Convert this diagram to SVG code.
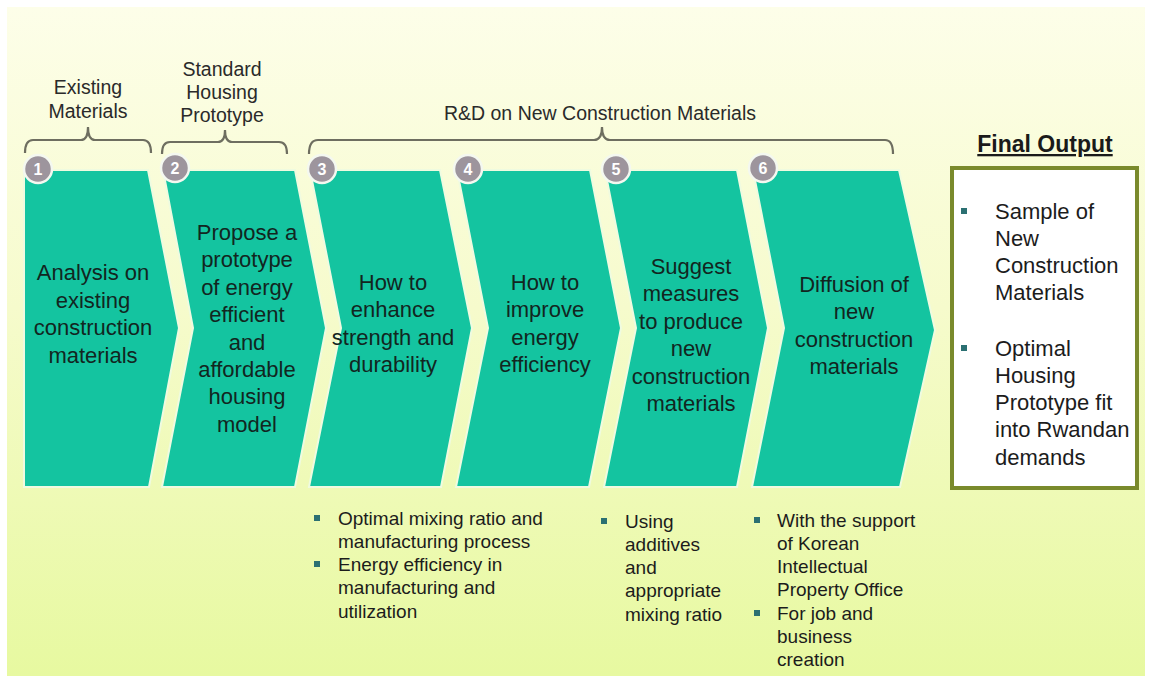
<svg xmlns="http://www.w3.org/2000/svg" width="1151" height="681" viewBox="0 0 1151 681">
<defs>
<linearGradient id="bg" x1="0" y1="0" x2="0" y2="1">
<stop offset="0" stop-color="#fdfee9"/>
<stop offset="0.45" stop-color="#f6fbcc"/>
<stop offset="1" stop-color="#e7f9a0"/>
</linearGradient>
<style>
.chev{fill:#14c4a0;stroke:#effbe0;stroke-width:2;}
.ct{font-family:"Liberation Sans",Arial,sans-serif;font-size:22px;fill:#12261f;text-anchor:middle;}
.lb{font-family:"Liberation Sans",Arial,sans-serif;font-size:19.5px;fill:#2a2a2a;text-anchor:middle;}
.bt{font-family:"Liberation Sans",Arial,sans-serif;font-size:19px;fill:#1c1c1c;}
.bx{font-family:"Liberation Sans",Arial,sans-serif;font-size:22px;fill:#1c1c1c;}
.num{fill:#9d959d;stroke:#f4f8f0;stroke-width:2.5;}
.nt{font-family:"Liberation Sans",Arial,sans-serif;font-size:16px;font-weight:bold;fill:#ffffff;text-anchor:middle;}
.br{fill:none;stroke:#6e6e60;stroke-width:2.2;}
.bul{fill:#2b7072;}
</style>
</defs>
<rect x="0" y="0" width="1151" height="681" fill="#ffffff"/>
<rect x="7" y="7" width="1138" height="669" fill="url(#bg)"/>

<g id="brackets">
<path class="br" d="M25,153 Q25,140 33,140 L81,140 Q88,140 88,127 Q88,140 95,140 L143,140 Q151,140 151,153"/>
<path class="br" d="M162,154 Q162,142 170,142 L218,142 Q225,142 225,130 Q225,142 232,142 L279,142 Q287,142 287,154"/>
<path class="br" d="M309,154 Q309,140 318,140 L594,140 Q602,140 602,127 Q602,140 610,140 L885,140 Q893,140 893,154"/>
</g>

<g id="labels">
<text class="lb"><tspan x="88" y="94">Existing</tspan><tspan x="88" y="118">Materials</tspan></text>
<text class="lb"><tspan x="222" y="76">Standard</tspan><tspan x="222" y="99">Housing</tspan><tspan x="222" y="122">Prototype</tspan></text>
<text class="lb" x="600" y="120">R&amp;D on New Construction Materials</text>
</g>

<g id="node1">
<path class="chev" d="M24,170 L148,170 L179,328 L149,487 L24,487 Z"/>
<text class="ct"><tspan x="93" y="280">Analysis on</tspan><tspan x="93" y="307.5">existing</tspan><tspan x="93" y="335">construction</tspan><tspan x="93" y="362.5">materials</tspan></text>
</g>
<g id="node2">
<path class="chev" d="M163,170 L295,170 L326,328 L295,487 L162,487 L193,328 Z"/>
<text class="ct"><tspan x="247" y="240">Propose a</tspan><tspan x="247" y="267.4">prototype</tspan><tspan x="247" y="294.8">of energy</tspan><tspan x="247" y="322.2">efficient</tspan><tspan x="247" y="349.6">and</tspan><tspan x="247" y="377">affordable</tspan><tspan x="247" y="404.4">housing</tspan><tspan x="247" y="431.8">model</tspan></text>
</g>
<g id="node3">
<path class="chev" d="M310,170 L440,170 L472,328 L441,487 L309,487 L341,328 Z"/>
<text class="ct"><tspan x="393" y="290">How to</tspan><tspan x="393" y="317.4">enhance</tspan><tspan x="393" y="344.8">strength and</tspan><tspan x="393" y="372.2">durability</tspan></text>
</g>
<g id="node4">
<path class="chev" d="M457,170 L590,170 L621,328 L589,487 L456,487 L488,328 Z"/>
<text class="ct"><tspan x="545" y="290">How to</tspan><tspan x="545" y="317.4">improve</tspan><tspan x="545" y="344.8">energy</tspan><tspan x="545" y="372.2">efficiency</tspan></text>
</g>
<g id="node5">
<path class="chev" d="M605,170 L737,170 L768,328 L737,487 L604,487 L636,328 Z"/>
<text class="ct"><tspan x="691" y="274">Suggest</tspan><tspan x="691" y="301.4">measures</tspan><tspan x="691" y="328.8">to produce</tspan><tspan x="691" y="356.2">new</tspan><tspan x="691" y="383.6">construction</tspan><tspan x="691" y="411">materials</tspan></text>
</g>
<g id="node6">
<path class="chev" d="M753,170 L899,170 L935,330 L900,487 L752,487 L784,328 Z"/>
<text class="ct"><tspan x="854" y="292">Diffusion of</tspan><tspan x="854" y="319.4">new</tspan><tspan x="854" y="346.8">construction</tspan><tspan x="854" y="374.2">materials</tspan></text>
</g>

<g id="numbers">
<circle class="num" cx="38" cy="169" r="14"/><text class="nt" x="38" y="175">1</text>
<circle class="num" cx="175" cy="168" r="14"/><text class="nt" x="175" y="174">2</text>
<circle class="num" cx="322" cy="169" r="14"/><text class="nt" x="322" y="175">3</text>
<circle class="num" cx="468" cy="169" r="14"/><text class="nt" x="468" y="175">4</text>
<circle class="num" cx="616" cy="169" r="14"/><text class="nt" x="616" y="175">5</text>
<circle class="num" cx="763" cy="168" r="14"/><text class="nt" x="763" y="174">6</text>
</g>

<g id="final-output">
<text x="1045" y="152" font-family="'Liberation Sans',Arial,sans-serif" font-size="23px" font-weight="bold" fill="#1a1a1a" text-anchor="middle" text-decoration="underline">Final Output</text>
<rect x="952" y="168" width="185" height="320" fill="#ffffff" stroke="#7a8a2c" stroke-width="4"/>
<rect class="bul" x="961" y="208" width="6" height="6"/>
<rect class="bul" x="961" y="345" width="6" height="6"/>
<text class="bx"><tspan x="995" y="218.5">Sample of</tspan><tspan x="995" y="245.8">New</tspan><tspan x="995" y="273.1">Construction</tspan><tspan x="995" y="300.4">Materials</tspan></text>
<text class="bx"><tspan x="995" y="355.5">Optimal</tspan><tspan x="995" y="382.8">Housing</tspan><tspan x="995" y="410.1">Prototype fit</tspan><tspan x="995" y="437.4">into Rwandan</tspan><tspan x="995" y="464.7">demands</tspan></text>
</g>

<g id="notes3">
<rect class="bul" x="314" y="515" width="6" height="6"/>
<rect class="bul" x="314" y="561" width="6" height="6"/>
<text class="bt"><tspan x="338" y="524.5">Optimal mixing ratio and</tspan><tspan x="338" y="547.8">manufacturing process</tspan><tspan x="338" y="571.1">Energy efficiency in</tspan><tspan x="338" y="594.4">manufacturing and</tspan><tspan x="338" y="617.7">utilization</tspan></text>
</g>
<g id="notes5">
<rect class="bul" x="601" y="518" width="6" height="6"/>
<text class="bt"><tspan x="625" y="527.5">Using</tspan><tspan x="625" y="550.8">additives</tspan><tspan x="625" y="574.1">and</tspan><tspan x="625" y="597.4">appropriate</tspan><tspan x="625" y="620.7">mixing ratio</tspan></text>
</g>
<g id="notes6">
<rect class="bul" x="754" y="517" width="6" height="6"/>
<rect class="bul" x="754" y="610" width="6" height="6"/>
<text class="bt"><tspan x="777" y="526.5">With the support</tspan><tspan x="777" y="549.8">of Korean</tspan><tspan x="777" y="573.1">Intellectual</tspan><tspan x="777" y="596.4">Property Office</tspan><tspan x="777" y="619.7">For job and</tspan><tspan x="777" y="643">business</tspan><tspan x="777" y="666.3">creation</tspan></text>
</g>
</svg>
